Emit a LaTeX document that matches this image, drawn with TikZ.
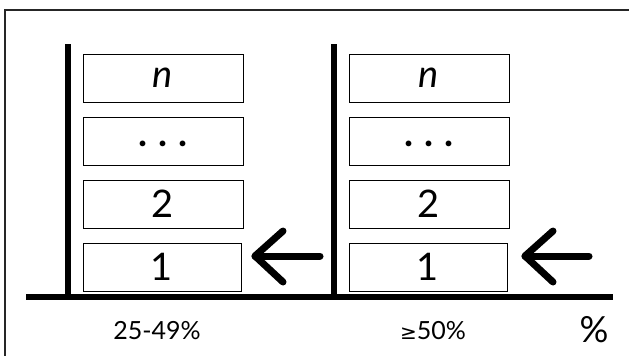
\documentclass[tikz,border=0pt]{standalone}
\usepackage{fontspec}
\setmainfont{Lato}
\newfontfamily\symfont{DejaVu Sans}
\begin{document}
\begin{tikzpicture}[x=1pt,y=-1pt,
  slot/.style={draw, line width=0.9pt, minimum width=160pt, minimum height=48pt, inner sep=0pt, font=\fontsize{38}{38}\selectfont},
  axis/.style={line width=5.5pt},
  bigarrow/.style={line width=7pt, line cap=round, line join=round},
  lbl/.style={font=\fontsize{25}{25}\selectfont}]
\useasboundingbox (0,0) rectangle (629,356);
\draw[line width=2pt, black!85] (629,9.5) -- (5,9.5) -- (5,356);
% axes
\coordinate (axL) at (26,297);
\coordinate (axR) at (613,297);
\draw[axis] (axL) -- (axR);
\coordinate (v1t) at (68,44); \coordinate (v1b) at (68,297);
\coordinate (v2t) at (334,44); \coordinate (v2b) at (334,297);
\draw[axis] (v1t) -- (v1b);
\draw[axis] (v2t) -- (v2b);
% left stack
\node[slot] (ln) at (163,78) {\itshape n};
\node[slot] (ld) at (163,141) {\raisebox{-0.3em}{\bfseries .\hspace{0.3em}.\hspace{0.3em}.}};
\node[slot] (l2) at (163,204) {2};
\node[slot, minimum width=158pt] (l1) at (162,267) {1};
% right stack
\node[slot] (rn) at (429,78) {\itshape n};
\node[slot] (rd) at (429,141) {\raisebox{-0.3em}{\bfseries .\hspace{0.3em}.\hspace{0.3em}.}};
\node[slot] (r2) at (429,204) {2};
\node[slot, minimum width=158pt] (r1) at (428,267) {1};
% arrows
\coordinate (a1tip) at (255,256); \coordinate (a1end) at (320,256);
\coordinate (a1u) at (283,231); \coordinate (a1d) at (283,282);
\draw[bigarrow] (a1end) -- (a1tip);
\draw[bigarrow] (a1u) -- (a1tip) -- (a1d);
\coordinate (a2tip) at (525,256); \coordinate (a2end) at (589,256);
\coordinate (a2u) at (553,231); \coordinate (a2d) at (553,282);
\draw[bigarrow] (a2end) -- (a2tip);
\draw[bigarrow] (a2u) -- (a2tip) -- (a2d);
% labels
\node[lbl] (t1) at (157,331) {25-49\%};
\node[lbl] (t2) at (433,331) {{\symfont\fontsize{20}{20}\selectfont ≥}50\%};
\node[font=\fontsize{36}{36}\selectfont] (t3) at (594,330) {\%};
\end{tikzpicture}
\end{document}
